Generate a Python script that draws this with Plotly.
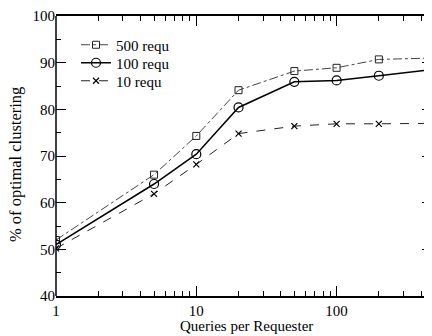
import numpy as np
import plotly.graph_objects as go

queries = [1, 5, 10, 20, 50, 100, 200, 500]
req500 = [52.0, 66.0, 74.3, 84.1, 88.2, 88.9, 90.7, 91.0]
req100 = [51.0, 64.0, 70.4, 80.4, 85.9, 86.2, 87.2, 88.6]
req10 = [50.2, 61.9, 68.2, 74.8, 76.4, 76.9, 76.9, 77.0]

x_ticks = [1, 10, 100]
y_ticks = [40, 50, 60, 70, 80, 90, 100]
x_title = "Queries per Requester"
y_title = "% of optimal clustering"

FONT = "Liberation Serif"
OFF = 8  # browser default body margin
W, H = 432 - OFF, 336 - OFF
ML, MR, MT, MB = 56 - OFF, 0, 16 - OFF, 40
pw = W - ML - MR
ph = H - MT - MB
bottom = H - MB


def px_to_paper_y(ys):
    return (bottom - (ys - OFF)) / ph


def px_to_paper_x(xs):
    return (xs - OFF - ML) / pw


fig = go.Figure()
fig.add_trace(go.Scatter(
    x=queries, y=req500, name="500 requ", mode="lines+markers", legend="legend",
    line=dict(color="#444444", width=1, dash="dashdot"),
    marker=dict(symbol="square-open", size=7, color="#222222", line=dict(width=1))))
fig.add_trace(go.Scatter(
    x=queries, y=req100, name="100 requ", mode="lines+markers", legend="legend2",
    line=dict(color="black", width=1.5),
    marker=dict(symbol="circle-open", size=9, color="black", line=dict(width=1.2))))
fig.add_trace(go.Scatter(
    x=queries, y=req10, name="10 requ", mode="lines+markers", legend="legend3",
    line=dict(color="#222222", width=1, dash="dash"),
    marker=dict(symbol="x-thin-open", size=6, color="black", line=dict(width=1.2))))

minor_x = [v for d in (1, 10, 100) for v in [d * k for k in range(2, 10)] if v < 500]

leg_common = dict(xanchor="left", yanchor="middle", bgcolor="rgba(0,0,0,0)",
                  font=dict(size=15, family=FONT), itemwidth=30)
lx = px_to_paper_x(76)

fig.update_layout(
    width=W, height=H,
    margin=dict(l=ML, r=MR, t=MT, b=MB, autoexpand=False),
    paper_bgcolor="white", plot_bgcolor="white",
    font=dict(family=FONT, size=15, color="black"),
    showlegend=True,
    legend=dict(x=lx, y=px_to_paper_y(45), **leg_common),
    legend2=dict(x=lx, y=px_to_paper_y(63), **leg_common),
    legend3=dict(x=lx, y=px_to_paper_y(81), **leg_common),
    xaxis=dict(type="log", range=[0, 2.68], automargin=False,
               tickvals=x_ticks, ticktext=[str(v) for v in x_ticks],
               ticks="inside", ticklen=10, tickwidth=1.2, tickcolor="black",
               showline=True, linecolor="black", linewidth=1.5, mirror="ticks",
               showgrid=False, zeroline=False,
               minor=dict(tickvals=minor_x, ticks="inside", ticklen=5, tickcolor="black", tickwidth=1),
               tickfont=dict(size=15, family=FONT)),
    yaxis=dict(range=[40, 100], tickvals=y_ticks, automargin=False,
               ticks="inside", ticklen=10, tickwidth=1.2, tickcolor="black",
               showline=False, mirror="ticks",
               showgrid=False, zeroline=False,
               minor=dict(dtick=5, tick0=45, ticks="inside", ticklen=5, tickcolor="black", tickwidth=1),
               tickfont=dict(size=15, family=FONT)),
)
fig.add_shape(type="line", xref="paper", yref="paper", x0=0, x1=0, y0=0, y1=1,
              line=dict(color="black", width=1.5))

fig.add_annotation(text=x_title, xref="paper", yref="paper",
                   x=px_to_paper_x(246), y=px_to_paper_y(326),
                   xanchor="center", yanchor="middle", showarrow=False,
                   font=dict(size=15, family=FONT))
fig.add_annotation(text=y_title, xref="paper", yref="paper",
                   x=px_to_paper_x(15), y=px_to_paper_y(165), textangle=-90,
                   xanchor="center", yanchor="middle", showarrow=False,
                   font=dict(size=16.5, family=FONT))

fig.write_html("out.html")
